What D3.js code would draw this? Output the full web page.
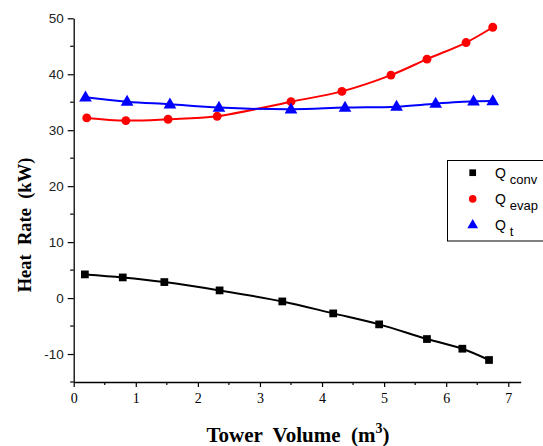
<!DOCTYPE html>
<html>
<head>
<meta charset="utf-8">
<script src="https://cdn.jsdelivr.net/npm/d3@7"></script>
<style>
  html, body { margin: 0; padding: 0; background: #fff; }
  svg { display: block; }
</style>
</head>
<body>
<svg id="chart" width="543" height="446"></svg>
<script>
// Tower volume (m^3) and heat rates (kW) per series
const convX = [0.18, 0.79, 1.46, 2.35, 3.36, 4.18, 4.92, 5.69, 6.26, 6.69];
const convY = [4.23, 3.69, 2.86, 1.37, -0.6, -2.74, -4.7, -7.32, -9.05, -11.07];
const evapX = [0.21, 0.84, 1.52, 2.31, 3.50, 4.32, 5.11, 5.69, 6.32, 6.75];
const evapY = [32.2, 31.72, 31.96, 32.49, 35.1, 36.94, 39.85, 42.7, 45.67, 48.4];
const totX  = [0.19, 0.86, 1.55, 2.34, 3.50, 4.37, 5.20, 5.83, 6.44, 6.75];
const totY  = [35.88, 35.1, 34.63, 34.04, 33.74, 34.04, 34.21, 34.75, 35.16, 35.22];

const xTicks = [0, 1, 2, 3, 4, 5, 6, 7];
const yTicks = [-10, 0, 10, 20, 30, 40, 50];
const seriesNames = ["conv", "evap", "t"];

const svg = d3.select("#chart");

const x = d3.scaleLinear().domain([0, 7.2]).range([73.7, 520.7]);
const y = d3.scaleLinear().domain([-15, 50]).range([382, 18.3]);

const series = [
  { name: seriesNames[0], xs: convX, ys: convY, color: "#000000", shape: d3.symbolSquare },
  { name: seriesNames[1], xs: evapX, ys: evapY, color: "#ff0000", shape: d3.symbolCircle },
  { name: seriesNames[2], xs: totX,  ys: totY,  color: "#0000ff", shape: d3.symbolTriangle }
];

// Axes: major ticks labelled, minor ticks halfway between
const xMinor = d3.range(0.5, 7.2, 1);
const yMinor = [-15, -5, 5, 15, 25, 35, 45];
const plainNum = d => String(d);

const xAxisG = svg.append("g").attr("transform", `translate(0,${y(-15)})`);
xAxisG.call(d3.axisBottom(x).tickValues(xTicks).tickFormat(plainNum).tickSize(5).tickSizeOuter(0));
xAxisG.append("g").selectAll("line").data(xMinor).join("line")
  .attr("x1", d => x(d)).attr("x2", d => x(d)).attr("y1", 0).attr("y2", 3)
  .attr("stroke", "#000").attr("stroke-width", 1.2);
xAxisG.selectAll(".tick text")
  .attr("font-family", "'Liberation Serif', 'Times New Roman', serif")
  .attr("font-size", 14).attr("dy", "0.95em").attr("fill", "#000");

const yAxisG = svg.append("g").attr("transform", `translate(${x(0)},0)`);
yAxisG.call(d3.axisLeft(y).tickValues(yTicks).tickFormat(plainNum).tickSize(6).tickSizeOuter(0));
yAxisG.append("g").selectAll("line").data(yMinor).join("line")
  .attr("x1", 0).attr("x2", -3.5).attr("y1", d => y(d)).attr("y2", d => y(d))
  .attr("stroke", "#000").attr("stroke-width", 1.2);
yAxisG.selectAll(".tick text")
  .attr("font-family", "'Liberation Sans', Arial, sans-serif")
  .attr("font-size", 13.5).attr("x", -10).attr("fill", "#222");

svg.selectAll(".domain").attr("stroke", "#000").attr("stroke-width", 1.3);
svg.selectAll(".tick line").attr("stroke", "#000").attr("stroke-width", 1.2);

// Axis titles
svg.append("text")
  .attr("x", 298).attr("y", 442)
  .attr("text-anchor", "middle")
  .attr("font-family", "'Liberation Serif', 'Times New Roman', serif")
  .attr("font-weight", "bold").attr("font-size", 21)
  .attr("xml:space", "preserve")
  .call(t => {
    t.append("tspan").text("Tower  Volume  (m");
    t.append("tspan").attr("font-size", 14).attr("dy", -9).text("3");
    t.append("tspan").attr("dy", 9).text(")");
  });

svg.append("text")
  .attr("transform", "translate(31,225) rotate(-90)")
  .attr("text-anchor", "middle")
  .attr("font-family", "'Liberation Serif', 'Times New Roman', serif")
  .attr("font-weight", "bold").attr("font-size", 18.5)
  .attr("xml:space", "preserve")
  .text("Heat  Rate  (kW)");

// Curves and markers
const line = d3.line().x(d => x(d[0])).y(d => y(d[1])).curve(d3.curveCatmullRom.alpha(0.5));

series.forEach(s => {
  const pts = s.xs.map((v, i) => [v, s.ys[i]]);
  svg.append("path").datum(pts)
    .attr("d", line).attr("fill", "none")
    .attr("stroke", s.color).attr("stroke-width", 2);
  const size = s.shape === d3.symbolTriangle ? 70 : (s.shape === d3.symbolCircle ? 62 : 60);
  svg.append("g").selectAll("path").data(pts).join("path")
    .attr("transform", d => `translate(${x(d[0])},${y(d[1]) + (s.shape === d3.symbolTriangle ? 0.5 : 0)})`)
    .attr("d", d3.symbol().type(s.shape).size(size))
    .attr("fill", s.color);
});

// Legend
const lg = svg.append("g");
lg.append("rect").attr("x", 447.5).attr("y", 160.5).attr("width", 120).attr("height", 80.5)
  .attr("fill", "#fff").attr("stroke", "#000").attr("stroke-width", 1);
series.forEach((s, i) => {
  const cy = 172.7 + i * 26.2;
  lg.append("path")
    .attr("transform", `translate(472.7,${cy})`)
    .attr("d", d3.symbol().type(s.shape).size(s.shape === d3.symbolTriangle ? 50 : 45))
    .attr("fill", s.color);
  const t = lg.append("text")
    .attr("x", 495).attr("y", cy + 5)
    .attr("font-family", "'Liberation Sans', Arial, sans-serif")
    .attr("font-size", 14).attr("fill", "#000")
    .attr("xml:space", "preserve");
  t.append("tspan").text("Q ");
  t.append("tspan").attr("dy", 6).attr("font-size", 13).text(s.name);
});
</script>
</body>
</html>
